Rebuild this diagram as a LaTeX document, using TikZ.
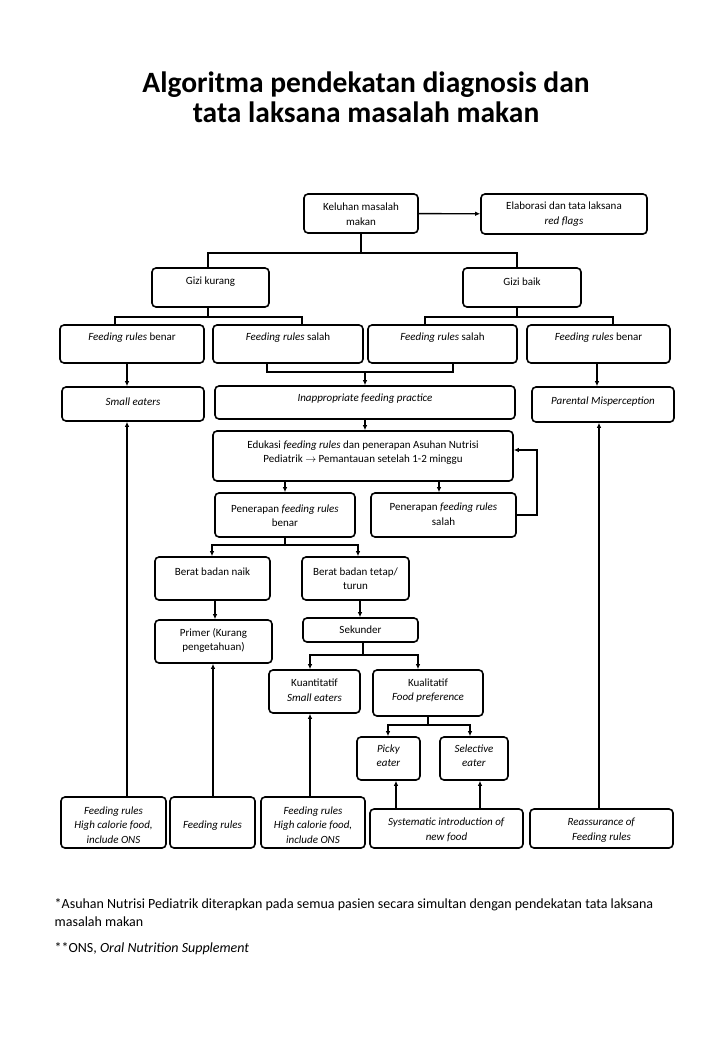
\documentclass[tikz,border=0pt]{standalone}
\usepackage{fontspec}
\setmainfont{Carlito}
\usetikzlibrary{arrows.meta}
\newcommand\mybox[7]{%
 \pgfmathsetmacro\bw{#4-#2}\pgfmathsetmacro\bh{#5-#3}%
 \pgfmathsetmacro\bcx{(#2+#4)/2}\pgfmathsetmacro\bcy{(#3+#5)/2}%
 \node[box,minimum width=\bw pt,minimum height=\bh pt] (#1) at (\bcx,\bcy) {};
 \node[txt] (#1t) at (\bcx,#6) {#7};}
\begin{document}
\begin{tikzpicture}[x=1pt,y=-1pt,line width=1.4pt,
 box/.style={draw,rounded corners=4pt,line width=1.6pt,inner sep=0pt},
 txt/.style={align=center,font=\fontsize{11}{14.5}\selectfont,inner sep=0pt},
 arr/.style={-{Latex[length=5pt,width=4.5pt]}},
 arrs/.style={{Latex[length=5pt,width=4.5pt]}-{Latex[length=5pt,width=4.5pt]}},
 foot/.style={anchor=west,inner sep=0pt,font=\fontsize{14}{16}\selectfont}]
\useasboundingbox (0,0) rectangle (720,1054);
\fill[white] (0,0) rectangle (720,1054);
\node[align=center,font=\fontsize{29.5}{30}\selectfont\bfseries] (title) at (366,97)
 {Algoritma pendekatan diagnosis dan\\tata laksana masalah makan};
% boxes
\mybox{kel}{304}{194}{418}{233}{214}{Keluhan masalah\\makan}
\mybox{elab}{481}{194}{647}{234}{214}{Elaborasi dan tata laksana\\\textit{red flags}}
\mybox{gk}{152}{268}{269}{307}{282}{Gizi kurang}
\mybox{gb}{463}{268}{581}{307}{282}{Gizi baik}
\mybox{fr1}{60}{325}{204}{363}{338}{\textit{Feeding rules} benar}
\mybox{fr2}{213}{325}{363}{363}{338}{\textit{Feeding rules} salah}
\mybox{fr3}{368}{325}{517}{363}{338}{\textit{Feeding rules} salah}
\mybox{fr4}{527}{325}{670}{363}{338}{\textit{Feeding rules} benar}
\mybox{small}{62}{387}{204}{421}{402}{\textit{Small eaters}}
\mybox{inap}{215}{386}{515}{419}{399}{\textit{Inappropriate feeding practice}}
\mybox{par}{532}{387}{674}{422}{402}{\textit{Parental Misperception}}
\mybox{edu}{213}{431}{513}{481}{452.5}{Edukasi \textit{feeding rules} dan penerapan Asuhan Nutrisi\\Pediatrik $\rightarrow$ Pemantauan setelah 1-2 minggu}
\mybox{pb}{215}{493}{355}{537}{515.5}{Penerapan \textit{feeding rules}\\benar}
\mybox{ps}{371}{493}{516}{537}{514}{Penerapan \textit{feeding rules}\\salah}
\mybox{bn}{155}{557}{270}{600}{572}{Berat badan naik}
\mybox{bt}{302}{557}{409}{600}{578.5}{Berat badan tetap/\\turun}
\mybox{prim}{155}{620}{272}{663}{640.5}{Primer (Kurang\\pengetahuan)}
\mybox{sek}{303}{618}{418}{642}{630}{Sekunder}
\mybox{kuan}{269}{670}{360}{713}{690}{Kuantitatif\\\textit{Small eaters}}
\mybox{kual}{373}{670}{483}{716}{690.5}{Kualitatif\\\textit{Food preference}}
\mybox{picky}{357}{737}{420}{780}{755.5}{\textit{Picky}\\\textit{eater}}
\mybox{sel}{440}{737}{508}{780}{755.5}{\textit{Selective}\\\textit{eater}}
\mybox{b1}{61}{797}{166}{848}{825}{\textit{Feeding rules}\\\textit{High calorie food,}\\\textit{include ONS}}
\mybox{b2}{170}{797}{255}{848}{826}{\textit{Feeding rules}}
\mybox{b3}{261}{797}{365}{848}{825}{\textit{Feeding rules}\\\textit{High calorie food,}\\\textit{include ONS}}
\mybox{b4}{370}{809}{523}{848}{830}{\textit{Systematic introduction of}\\\textit{new food}}
\mybox{b5}{530}{809}{673}{848}{830}{\textit{Reassurance of}\\\textit{Feeding rules}}
% coordinates
\coordinate (k1) at (208,253); \coordinate (k2) at (517,253);
\coordinate (g1) at (115,317); \coordinate (g2) at (302,317);
\coordinate (g3) at (425,317); \coordinate (g4) at (613,317);
\coordinate (m1) at (267,372); \coordinate (m2) at (453,372); \coordinate (m0) at (365,372);
\coordinate (cA) at (127,0); \coordinate (cP) at (597,0);
\coordinate (r1) at (537,450);
\coordinate (p1) at (212,545); \coordinate (p2) at (358,545);
\coordinate (s1) at (310,655); \coordinate (s2) at (418,655);
\coordinate (q1) at (388,725); \coordinate (q2) at (470,725);
\coordinate (cB) at (213,0); \coordinate (cC) at (310,0);
\coordinate (cD) at (396,0); \coordinate (cE) at (480,0);
\coordinate (cF) at (599,0); \coordinate (cG) at (215,0); \coordinate (cH) at (360,0);
% connectors
\draw[arr] (kel) -- (elab);
\draw (kel.south) -- (kel.south |- k1);
\draw (k1 |- gk.north) -- (k1) -- (k2) -- (k2 |- gb.north);
\draw (gk.south -| k1) -- (k1 |- g1);
\draw (g1 |- fr1.north) -- (g1) -- (g2) -- (g2 |- fr2.north);
\draw (gb.south -| k2) -- (k2 |- g3);
\draw (g3 |- fr3.north) -- (g3) -- (g4) -- (g4 |- fr4.north);
\draw (m1 |- fr2.south) -- (m1) -- (m2) -- (m2 |- fr3.south);
\draw[arr] (m0) -- (m0 |- inap.north);
\draw[arr] (fr1.south -| cA) -- (small.north -| cA);
\draw[arr] (fr4.south -| cP) -- (par.north -| cP);
\draw[arr] (inap.south -| m0) -- (edu.north -| m0);
\draw[arr] (edu.south -| pb.north) -- (pb.north);
\draw[arr] (edu.south -| 439,0) -- (ps.north -| 439,0);
\draw[arr] (ps.east) -| (r1) -- (edu.east |- r1);
\draw (pb.south) -- (pb.south |- p1);
\draw[arrs] (bn.north -| p1) -- (p1) -- (p2) -- (bt.north -| p2);
\draw[arr] (bn.south -| cG) -- (prim.north -| cG);
\draw[arr] (bt.south -| cH) -- (sek.north -| cH);
\draw (sek.south -| 363,0) -- (363,655);
\draw[arrs] (kuan.north -| s1) -- (s1) -- (s2) -- (kual.north -| s2);
\draw (kual.south -| 428,0) -- (428,725);
\draw[arrs] (picky.north -| q1) -- (q1) -- (q2) -- (sel.north -| q2);
\draw[arr] (b1.north -| cA) -- (small.south -| cA);
\draw[arr] (b2.north -| cB) -- (prim.south -| cB);
\draw[arr] (b3.north -| cC) -- (kuan.south -| cC);
\draw[arr] (b4.north -| cD) -- (picky.south -| cD);
\draw[arr] (b4.north -| cE) -- (sel.south -| cE);
\draw[arr] (b5.north -| cF) -- (par.south -| cF);
% footnotes
\node[foot] (f1) at (54,905) {*Asuhan Nutrisi Pediatrik diterapkan pada semua pasien secara simultan dengan pendekatan tata laksana};
\node[foot] (f2) at (54,922) {masalah makan};
\node[foot] (f3) at (54,949) {**ONS, \textit{Oral Nutrition Supplement}};
\end{tikzpicture}
\end{document}
